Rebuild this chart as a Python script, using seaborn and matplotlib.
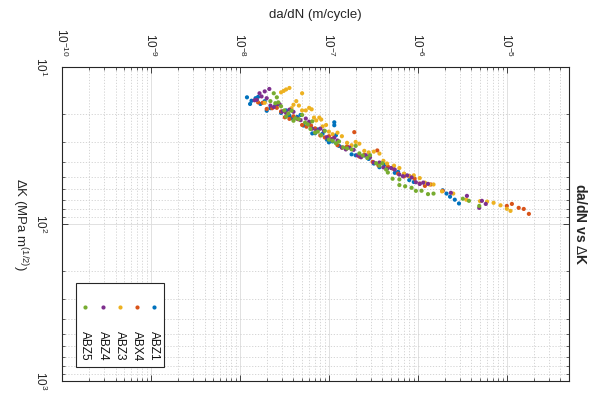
import matplotlib
matplotlib.use("Agg")
import numpy as np
import pandas as pd
import matplotlib.pyplot as plt
import seaborn as sns
from matplotlib.ticker import FixedLocator, LogFormatterMathtext, NullFormatter
from matplotlib.patches import Rectangle

series_names = ["ABZ1", "ABX4", "ABZ3", "ABZ4", "ABZ5"]
series_colors = ["#0072BD", "#D95319", "#EDB120", "#7E2F8E", "#77AC30"]

x_major_ticks = [1e-10, 1e-9, 1e-8, 1e-7, 1e-6, 1e-5]
y_major_ticks = [10, 100, 1000]

abz1_dadn = [1.2e-8, 1.35e-8, 1.5e-8, 1.7e-8, 1.9e-8, 2.2e-8, 2.5e-8, 2.9e-8, 3.3e-8, 3.8e-8,
             4.4e-8, 5.2e-8, 6.0e-8, 7.0e-8, 8.5e-8, 1.0e-7, 1.15e-7, 1.15e-7, 1.2e-7, 1.3e-7,
             1.6e-7, 2.0e-7, 2.5e-7, 3.2e-7, 4.2e-7, 5.5e-7, 7.0e-7, 9.0e-7, 1.2e-6, 1.9e-6,
             2.1e-6, 2.3e-6, 2.6e-6, 2.9e-6,
             1.3e-8, 1.6e-8, 2.0e-8, 2.7e-8, 3.6e-8, 4.8e-8, 6.5e-8, 7.5e-8, 9.5e-8, 1.1e-7,
             1.8e-7, 2.8e-7, 3.7e-7, 6.0e-7, 8.0e-7]
abz1_dk = [15.6, 16.4, 15.8, 17.2, 16.5, 18.3, 17.6, 19.6, 18.9, 21.2,
           20.8, 23.6, 23.2, 26.4, 26.6, 30.2, 22.5, 23.5, 27.2, 31.8,
           32.6, 36.5, 36.6, 41.2, 42.0, 47.2, 48.0, 54.0, 55.0, 61.0,
           64.0, 67.0, 70.0, 74.0,
           17.2, 15.5, 19.0, 17.3, 20.4, 20.2, 26.5, 25.0, 29.0, 29.8,
           36.0, 38.5, 43.5, 46.5, 52.5]

abx4_dadn = [1.6e-8, 2.0e-8, 2.6e-8, 3.2e-8, 4.0e-8, 5.0e-8, 6.3e-8, 8.0e-8, 1.0e-7, 1.25e-7,
             1.6e-7, 1.93e-7, 2.2e-7, 2.8e-7, 3.5e-7, 3.6e-7, 4.6e-7, 6.0e-7, 8.0e-7, 1.05e-6,
             1.4e-6, 1.9e-6, 1.0e-5, 1.14e-5, 1.36e-5, 1.55e-5, 1.77e-5,
             1.8e-8, 2.3e-8, 2.9e-8, 3.6e-8, 4.5e-8, 5.6e-8, 7.0e-8, 9.0e-8, 1.1e-7, 1.4e-7,
             2.5e-7, 3.1e-7, 5.3e-7, 7.0e-7, 9.2e-7, 1.2e-6]
abx4_dk = [16.8, 18.5, 18.2, 20.9, 20.6, 23.4, 23.6, 27.3, 27.6, 31.5,
           32.0, 26.0, 37.2, 37.5, 34.0, 42.3, 43.0, 47.8, 49.5, 55.2,
           56.0, 61.5, 76.7, 74.5, 78.9, 80.2, 86.2,
           16.9, 18.3, 19.2, 21.4, 21.5, 24.0, 24.6, 28.1, 28.6, 32.6,
           36.4, 40.2, 44.5, 49.8, 51.5, 57.2]

abz3_dadn = [1.55e-8, 1.9e-8, 2.9e-8, 3.1e-8, 3.3e-8, 3.6e-8, 5.0e-8, 3.8e-8, 4.3e-8, 5.0e-8,
             6.0e-8, 6.8e-8, 7.8e-8, 8.5e-8, 9.3e-8, 1.1e-7, 1.4e-7, 1.8e-7, 2.2e-7, 2.8e-7,
             3.7e-7, 4.5e-7, 5.4e-7, 7.0e-7, 9.0e-7, 1.2e-6, 1.5e-6, 1.87e-6, 2.5e-6, 3.5e-6,
             5.0e-6, 7.1e-6, 1.0e-5, 1.1e-5,
             4.0e-8, 4.6e-8, 5.5e-8, 6.4e-8, 7.2e-8, 8.2e-8, 1.0e-7, 1.25e-7, 1.6e-7, 2.0e-7,
             2.5e-7, 3.2e-7, 4.1e-7, 6.2e-7, 8.0e-7, 1.05e-6, 1.35e-6, 6.0e-6, 8.5e-6]
abz3_dk = [16.3, 16.9, 14.5, 14.2, 13.9, 13.6, 14.7, 18.3, 16.5, 18.9,
           18.2, 21.0, 21.0, 23.9, 23.4, 26.8, 27.6, 31.5, 30.8, 35.0,
           35.6, 41.2, 42.5, 47.8, 49.0, 54.5, 56.0, 62.0, 64.0, 70.0,
           71.5, 73.3, 80.0, 82.5,
           17.4, 17.6, 18.9, 18.6, 21.9, 21.6, 25.8, 26.2, 30.4, 30.0,
           34.2, 34.6, 39.6, 44.0, 49.6, 51.0, 56.0, 72.0, 76.0]

abz4_dadn = [1.46e-8, 1.66e-8, 1.9e-8, 2.14e-8, 2.0e-8, 2.4e-8, 2.8e-8, 3.3e-8, 4.0e-8, 4.8e-8,
             5.5e-8, 6.5e-8, 8.0e-8, 9.5e-8, 1.15e-7, 1.4e-7, 1.7e-7, 2.1e-7, 2.6e-7, 3.2e-7,
             3.7e-7, 4.5e-7, 5.5e-7, 6.8e-7, 8.5e-7, 1.05e-6, 1.3e-6, 2.35e-6, 3.56e-6, 5.25e-6,
             5.8e-6, 4.9e-6,
             1.55e-8, 1.75e-8, 2.2e-8, 2.6e-8, 3.0e-8, 3.6e-8, 4.4e-8, 6.0e-8, 7.2e-8, 8.8e-8,
             1.05e-7, 1.25e-7, 1.55e-7, 1.9e-7, 2.3e-7, 2.9e-7, 4.1e-7, 5.0e-7, 6.2e-7, 7.6e-7,
             9.5e-7, 1.15e-6]
abz4_dk = [16.3, 14.7, 14.3, 13.8, 15.8, 18.0, 17.3, 19.6, 19.3, 21.8,
           21.3, 24.7, 24.7, 28.0, 28.2, 32.6, 32.6, 36.6, 36.5, 40.6,
           40.6, 44.6, 45.0, 49.6, 50.5, 55.6, 55.5, 63.3, 66.2, 71.2,
           74.5, 78.9,
           16.2, 15.4, 17.6, 17.2, 19.2, 18.7, 21.3, 22.3, 25.4, 25.5,
           28.9, 29.4, 33.5, 33.7, 37.6, 37.6, 43.6, 44.0, 48.4, 49.0,
           54.2, 54.5]

abz5_dadn = [2.4e-8, 2.6e-8, 2.2e-8, 2.9e-8, 3.16e-8, 3.5e-8, 3.8e-8, 4.2e-8, 5.0e-8, 5.8e-8,
             6.5e-8, 7.5e-8, 9.0e-8, 1.1e-7, 1.3e-7, 1.6e-7, 2.0e-7, 2.4e-7, 2.9e-7, 3.4e-7,
             4.0e-7, 4.4e-7, 4.6e-7, 5.2e-7, 6.2e-7, 6.2e-7, 8.5e-7, 1.1e-6, 1.5e-6, 3.2e-6,
             3.75e-6, 4.9e-6,
             2.7e-8, 2.5e-8, 3.3e-8, 4.0e-8, 4.6e-8, 5.4e-8, 6.2e-8, 7.0e-8, 8.2e-8, 1.0e-7,
             1.2e-7, 1.45e-7, 1.8e-7, 2.2e-7, 2.7e-7, 3.7e-7, 7.2e-7, 9.5e-7, 1.3e-6]
abz5_dk = [14.7, 15.6, 16.5, 17.8, 18.9, 19.8, 19.0, 21.2, 20.2, 23.2,
           22.2, 25.8, 25.5, 29.5, 29.8, 33.0, 31.8, 36.6, 36.5, 41.0,
           41.0, 45.0, 47.0, 51.5, 52.0, 56.5, 58.8, 61.4, 64.0, 69.0,
           71.2, 76.7,
           16.8, 17.0, 20.7, 22.0, 21.5, 22.6, 24.8, 26.2, 27.2, 29.0,
           30.6, 32.5, 33.5, 35.5, 38.0, 42.5, 57.5, 61.5, 64.5]

all_x = [abz1_dadn, abx4_dadn, abz3_dadn, abz4_dadn, abz5_dadn]
all_y = [abz1_dk, abx4_dk, abz3_dk, abz4_dk, abz5_dk]
frames = []
for name, xs, ys in zip(series_names, all_x, all_y):
    frames.append(pd.DataFrame({"dadn": xs, "dk": ys, "series": name}))
df = pd.concat(frames, ignore_index=True)

sns.set_theme(style="white")
plt.rcParams['font.family'] = ['Liberation Sans', 'DejaVu Sans']
plt.rcParams['mathtext.fontset'] = 'custom'
plt.rcParams['mathtext.rm'] = 'Liberation Sans'
plt.rcParams['mathtext.it'] = 'Liberation Sans:italic'
plt.rcParams['mathtext.bf'] = 'Liberation Sans:bold'
plt.rcParams['axes.unicode_minus'] = False

fig = plt.figure(figsize=(5.91, 4.0), dpi=100)
ax = fig.add_axes([62/591, 1-381/400, 507/591, 314/400])
ax.set_xscale('log')
ax.set_yscale('log')
sns.scatterplot(data=df, x="dadn", y="dk", hue="series", hue_order=series_names,
                palette=series_colors, s=9, linewidth=0, legend=False, ax=ax, zorder=3)
xlim = (1e-10, 5e-5)
ylim = (10, 1000)
ax.set_xlim(*xlim)
ax.set_ylim(ylim[1], ylim[0])

x_minor = [m * 10.0**e for e in range(-10, -4) for m in range(2, 10) if m * 10.0**e <= xlim[1]]
y_minor = [m * 10.0**e for e in range(1, 3) for m in range(2, 10)]
ax.xaxis.set_major_locator(FixedLocator(x_major_ticks))
ax.xaxis.set_minor_locator(FixedLocator(x_minor))
ax.yaxis.set_major_locator(FixedLocator(y_major_ticks))
ax.yaxis.set_minor_locator(FixedLocator(y_minor))
ax.xaxis.set_major_formatter(LogFormatterMathtext())
ax.yaxis.set_major_formatter(LogFormatterMathtext())
ax.xaxis.set_minor_formatter(NullFormatter())
ax.yaxis.set_minor_formatter(NullFormatter())

ax.grid(True, which='major', color='#dcdcdc', linewidth=0.6, linestyle='-')
ax.grid(True, which='minor', color='#cfcfcf', linewidth=0.6, linestyle=(0, (1.5, 2)))
ax.set_axisbelow(True)

for sp in ax.spines.values():
    sp.set_color('#262626')
    sp.set_linewidth(0.8)

ax.tick_params(axis='both', which='both', direction='in', top=True, bottom=True,
               left=True, right=True, color='#262626', labelsize=8.5, labelcolor='#262626')
ax.tick_params(axis='both', which='major', length=4, width=0.6)
ax.tick_params(axis='both', which='minor', length=2.5, width=0.5)
ax.tick_params(axis='x', labeltop=True, labelbottom=False, labelrotation=-90, pad=7)
ax.tick_params(axis='y', labelrotation=-90, pad=10)

ax.set_xlabel("da/dN (m/cycle)", fontsize=9.5, color='#262626')
ax.xaxis.set_label_position('top')
ax.xaxis.set_label_coords(0.5, (381-15)/314)
ax.xaxis.label.set_va('center')

ax.set_ylabel(r"$\Delta$K (MPa m$^{(1/2)}$)", fontsize=9.5, color='#262626',
              rotation=-90, rotation_mode='anchor')
ax.yaxis.set_label_coords((20-62)/507, 0.5)
ax.yaxis.label.set_va('center')
ax.yaxis.label.set_ha('center')

ax.text((580-62)/507, 0.5, r"da/dN vs $\Delta$K", transform=ax.transAxes,
        rotation=-90, ha='center', va='center', fontsize=10, fontweight='bold',
        color='#262626')

fig.canvas.draw()
for lab in ax.get_yticklabels():
    lab.set_va('center')

# legend box
leg_left, leg_right = (76-62)/507, (164-62)/507
leg_bottom, leg_top = (381-367)/314, (381-283)/314
ax.add_patch(Rectangle((leg_left, leg_bottom), leg_right-leg_left, leg_top-leg_bottom,
                       transform=ax.transAxes, facecolor='white', edgecolor='#262626',
                       linewidth=0.8, zorder=5))
leg_x = [(154-62)/507, (137-62)/507, (120-62)/507, (103-62)/507, (85-62)/507]
for name, col, lx in zip(series_names, series_colors, leg_x):
    ax.scatter([lx], [(381-307)/314], transform=ax.transAxes, s=9, color=col,
               linewidths=0, zorder=6, clip_on=False)
    ax.text(lx, (381-331)/314, name, transform=ax.transAxes, rotation=-90,
            ha='center', va='top', fontsize=8.5, color='#111111', zorder=6)

fig.savefig("out.png", dpi=100)
